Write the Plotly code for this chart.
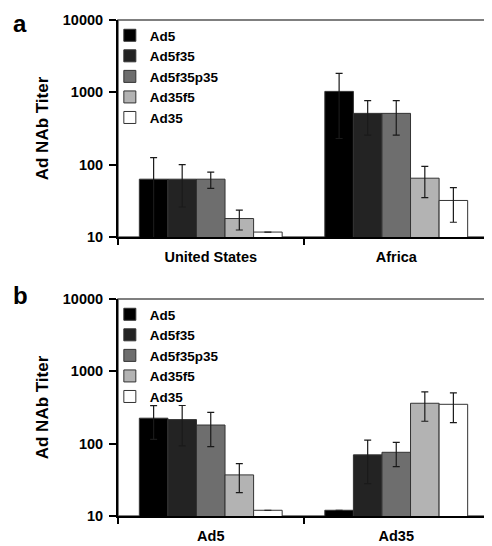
import plotly.graph_objects as go
from plotly.subplots import make_subplots

series = ["Ad5", "Ad5f35", "Ad5f35p35", "Ad35f5", "Ad35"]
colors = ["#000000", "#232323", "#6e6e6e", "#b3b3b3", "#ffffff"]

cats_a = ["United States", "Africa"]
vals_a = {
    "Ad5": [63, 1030],
    "Ad5f35": [63, 512],
    "Ad5f35p35": [63, 512],
    "Ad35f5": [18, 65],
    "Ad35": [11.7, 32],
}
err_a = {
    "Ad5": [62, 800],
    "Ad5f35": [37, 256],
    "Ad5f35p35": [16, 256],
    "Ad35f5": [5.5, 30],
    "Ad35": [0, 16],
}

cats_b = ["Ad5", "Ad35"]
vals_b = {
    "Ad5": [225, 12],
    "Ad5f35": [215, 70],
    "Ad5f35p35": [181, 76],
    "Ad35f5": [37, 362],
    "Ad35": [12, 350],
}
err_b = {
    "Ad5": [110, 0],
    "Ad5f35": [122, 42],
    "Ad5f35p35": [90, 28],
    "Ad35f5": [16, 158],
    "Ad35": [0, 155],
}

ytick_vals = [10, 100, 1000, 10000]
ytick_text = ["10", "100", "1000", "10000"]
y_title = "Ad NAb Titer"

FONT = "Liberation Sans, Arial, sans-serif"

fig = make_subplots(rows=2, cols=1, vertical_spacing=0.125)

for row, cats, vals, errs, lg in [(1, cats_a, vals_a, err_a, "legend"),
                                  (2, cats_b, vals_b, err_b, "legend2")]:
    for name, col in zip(series, colors):
        fig.add_trace(go.Bar(
            x=cats, y=vals[name], name=name,
            marker=dict(color=col, line=dict(color="#333333", width=1)),
            error_y=dict(type="data", array=errs[name], visible=True,
                         color="#1a1a1a", thickness=1.2, width=3.5),
            legend=lg, showlegend=True,
        ), row=row, col=1)

legend_font = dict(size=13.5, family=FONT, weight="bold")
fig.update_layout(
    width=492, height=546,
    margin=dict(l=110, r=11, t=12, b=38, autoexpand=False),
    barmode="group", bargap=0.23, bargroupgap=0,
    plot_bgcolor="white", paper_bgcolor="white",
    font=dict(family=FONT, size=13, color="#000000"),
    legend=dict(x=-0.022, y=1.0, xanchor="left", yanchor="top",
                bgcolor="rgba(0,0,0,0)", font=legend_font, tracegroupgap=0),
    legend2=dict(x=-0.022, y=0.4375, xanchor="left", yanchor="top",
                 bgcolor="rgba(0,0,0,0)", font=legend_font, tracegroupgap=0),
)

for r in (1, 2):
    fig.update_yaxes(type="log", range=[1, 4], tickvals=ytick_vals, ticktext=ytick_text,
                     ticks="outside", ticklen=7, tickwidth=1.5, tickcolor="#000",
                     showline=True, linecolor="#000", linewidth=2, showgrid=False,
                     zeroline=False, automargin=False, ticklabelstandoff=3,
                     tickfont=dict(size=14.5, family=FONT, weight="bold"),
                     title=dict(text=y_title, font=dict(size=17, family=FONT, weight="bold"),
                                standoff=10),
                     row=r, col=1)
    fig.update_xaxes(type="category", tickson="boundaries", ticks="outside", ticklen=6,
                     tickwidth=1.5, tickcolor="#000", showline=True, linecolor="#000",
                     linewidth=2, showgrid=False, automargin=False, ticklabelstandoff=6,
                     tickfont=dict(size=14.5, family=FONT, weight="bold"),
                     row=r, col=1)

# frame (top/right) in gray
for xr, yr in [("x domain", "y domain"), ("x2 domain", "y2 domain")]:
    fig.add_shape(type="rect", xref=xr, yref=yr, x0=0, x1=1, y0=0, y1=1,
                  line=dict(color="#555555", width=1.5), layer="below")

for txt, yy in [("a", 1.024), ("b", 0.4752)]:
    fig.add_annotation(text=txt, xref="paper", yref="paper", x=-0.288, y=yy,
                       xanchor="left", yanchor="top", showarrow=False,
                       font=dict(size=24, family=FONT, weight="bold"))

fig.write_html("out.html")
